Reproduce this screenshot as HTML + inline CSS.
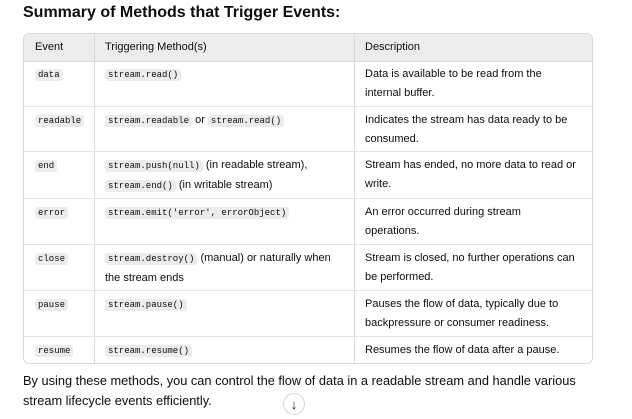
<!DOCTYPE html>
<html><head><style>
body{margin:0;width:632px;height:419px;background:#fff;position:relative;overflow:hidden;font-family:"Liberation Sans",sans-serif;color:#0d0d0d}
h1{position:absolute;left:23px;top:4px;margin:0;font-size:16px;font-weight:bold}
.tbl{position:absolute;left:23px;top:33px;width:568px;height:329px;border:1px solid #d9d9d9;border-radius:6px;overflow:hidden}
.hd{position:absolute;left:0;top:0;width:100%;height:27px;background:#ececec;border-bottom:1px solid #d9d9d9}
.hl{position:absolute;left:0;width:100%;height:1px;background:#e3e3e3}
.vl{position:absolute;top:0;width:1px;height:100%;background:#d9d9d9}
.t{position:absolute;font-size:11px;white-space:nowrap;line-height:19px}
code{font-family:"Liberation Mono",monospace;font-size:9px;background:#ececec;border-radius:3px;padding:1px 3px}
p{position:absolute;left:23px;top:371px;margin:0;font-size:12.8px;line-height:20px;width:590px}
.arr{position:absolute;left:283px;top:393px;width:22px;height:22px;border:1px solid #d6d6d6;border-radius:50%;text-align:center;font-size:13px;line-height:22px;box-sizing:border-box}
</style></head><body>
<h1>Summary of Methods that Trigger Events:</h1>
<div class="tbl">
<div class="hd"></div>
<div class="vl" style="left:70px"></div>
<div class="vl" style="left:330px"></div>
<div class="hl" style="top:72px"></div>
<div class="hl" style="top:117px"></div>
<div class="hl" style="top:164px"></div>
<div class="hl" style="top:210px"></div>
<div class="hl" style="top:256px"></div>
<div class="hl" style="top:302px"></div>
<div class="t" style="left:11px;top:4px">Event</div>
<div class="t" style="left:81px;top:4px">Triggering Method(s)</div>
<div class="t" style="left:341px;top:4px">Description</div>

<div class="t" style="left:11px;top:31px"><code>data</code></div>
<div class="t" style="left:81px;top:31px"><code>stream.read()</code></div>
<div class="t" style="left:341px;top:31px">Data is available to be read from the<br>internal buffer.</div>

<div class="t" style="left:11px;top:77px"><code>readable</code></div>
<div class="t" style="left:81px;top:77px"><code>stream.readable</code> or <code>stream.read()</code></div>
<div class="t" style="left:341px;top:77px">Indicates the stream has data ready to be<br>consumed.</div>

<div class="t" style="left:11px;top:122px"><code>end</code></div>
<div class="t" style="left:81px;top:122px"><code>stream.push(null)</code> (in readable stream),<br><code>stream.end()</code> (in writable stream)</div>
<div class="t" style="left:341px;top:122px">Stream has ended, no more data to read or<br>write.</div>

<div class="t" style="left:11px;top:169px"><code>error</code></div>
<div class="t" style="left:81px;top:169px"><code>stream.emit('error', errorObject)</code></div>
<div class="t" style="left:341px;top:169px">An error occurred during stream<br>operations.</div>

<div class="t" style="left:11px;top:215px"><code>close</code></div>
<div class="t" style="left:81px;top:215px"><code>stream.destroy()</code> (manual) or naturally when<br>the stream ends</div>
<div class="t" style="left:341px;top:215px">Stream is closed, no further operations can<br>be performed.</div>

<div class="t" style="left:11px;top:261px"><code>pause</code></div>
<div class="t" style="left:81px;top:261px"><code>stream.pause()</code></div>
<div class="t" style="left:341px;top:261px">Pauses the flow of data, typically due to<br>backpressure or consumer readiness.</div>

<div class="t" style="left:11px;top:307px"><code>resume</code></div>
<div class="t" style="left:81px;top:307px"><code>stream.resume()</code></div>
<div class="t" style="left:341px;top:307px">Resumes the flow of data after a pause.</div>
</div>
<p>By using these methods, you can control the flow of data in a readable stream and handle various<br>stream lifecycle events efficiently.</p>
<div class="arr">↓</div>
</body></html>
